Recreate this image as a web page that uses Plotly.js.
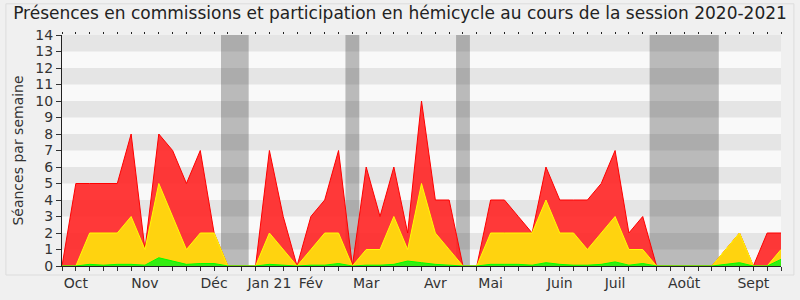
<!DOCTYPE html>
<html>
<head>
<meta charset="utf-8">
<script src="https://cdn.plot.ly/plotly-3.0.1.min.js"></script>
<style>html,body{margin:0;padding:0;background:#f0f0f0;}#chart{width:800px;height:300px;}</style>
</head>
<body>
<div id="chart"></div>
<script>
// Week index 0..52 of the 2020-2021 session
const weeks = [0,1,2,3,4,5,6,7,8,9,10,11,12,13,14,15,16,17,18,19,20,21,22,23,24,25,26,27,28,29,30,31,32,33,34,35,36,37,38,39,40,41,42,43,44,45,46,47,48,49,50,51,52];
// Présences en commission + hémicycle (red)
const presences = [0,5,5,5,5,8,1,8,7,5,7,2,0,0,0,7,3,0,3,4,7,0,6,3,6,2,10,4,4,0,0,4,4,3,2,6,4,4,4,5,7,2,3,0,0,0,0,0,1,2,0,2,2];
// Participation en hémicycle (yellow)
const hemicycle = [0,0,2,2,2,3,1,5,3,1,2,2,0,0,0,2,1,0,1,2,2,0,1,1,3,1,5,2,1,0,0,2,2,2,2,4,2,2,1,2,3,1,1,0,0,0,0,0,1,2,0,0,1];
// Interventions (green)
const interventions = [0,0,0.1,0.05,0.1,0.1,0.05,0.5,0.3,0.1,0.15,0.15,0,0,0,0.1,0.05,0,0.05,0.05,0.15,0,0.05,0.05,0.1,0.3,0.2,0.1,0.05,0,0,0.1,0.1,0.1,0.05,0.2,0.1,0.05,0.05,0.1,0.25,0.05,0.15,0,0,0,0,0,0.1,0.2,0,0,0.4];
// Month labels (week positions)
const monthWeeks = [1,6,11,15,18,22,27,31,36,40,45,50];
const monthLabels = ["Oct","Nov","Déc","Jan 21","Fév","Mar","Avr","Mai","Juin","Juil","Août","Sept"];
// Vacation periods (week bounds)
const vacStart = [11.5,20.5,28.5,42.5];
const vacEnd = [13.5,21.5,29.5,47.5];
const yTicks = [0,1,2,3,4,5,6,7,8,9,10,11,12,13,14];

const tickText = weeks.map(w => { const i = monthWeeks.indexOf(w); return i >= 0 ? monthLabels[i] : ""; });

const shapes = [];
for (let k = 1; k < 14; k += 2) {
  shapes.push({type:'rect', xref:'paper', yref:'y', x0:0, x1:1, y0:k, y1:k+1, fillcolor:'#e5e5e5', line:{width:0}, layer:'below'});
}
for (let i = 0; i < vacStart.length; i++) {
  shapes.push({type:'rect', xref:'x', yref:'paper', x0:vacStart[i], x1:vacEnd[i], y0:0, y1:1, fillcolor:'rgba(40,40,40,0.3)', line:{width:0}, layer:'below'});
}
shapes.push({type:'rect', xref:'paper', yref:'paper', x0:-0.078, x1:1.018, y0:-0.039, y1:1.135, line:{color:'#dcdcdc', width:1}, fillcolor:'rgba(0,0,0,0)', layer:'below'});

const traces = [
  {x: weeks, y: presences, type:'scatter', mode:'lines', fill:'tozeroy', line:{color:'#ff0000', width:1}, fillcolor:'rgba(255,35,35,0.9)', hoverinfo:'skip'},
  {x: weeks, y: hemicycle, type:'scatter', mode:'lines', fill:'tozeroy', line:{color:'#ffff00', width:1}, fillcolor:'#ffd30f', hoverinfo:'skip'},
  {x: weeks, y: interventions, type:'scatter', mode:'lines', fill:'tozeroy', line:{color:'#00ff00', width:1}, fillcolor:'#33ee11', hoverinfo:'skip'},
  {x: weeks, y: weeks.map(()=>null), xaxis:'x2', type:'scatter', mode:'lines', hoverinfo:'skip', showlegend:false}
];

const layout = {
  width: 800, height: 300,
  margin: {l:62, r:19, t:35, b:34},
  paper_bgcolor: '#f0f0f0',
  plot_bgcolor: '#f9f9f9',
  showlegend: false,
  font: {family:'"DejaVu Sans", Verdana, sans-serif', color:'#333', size:14},
  title: {text:'Présences en commissions et participation en hémicycle au cours de la session 2020-2021', font:{size:17, color:'#222'}, x:0.5, xanchor:'center', y:0.955, yref:'container', yanchor:'middle'},
  xaxis: {range:[0,52], tickmode:'array', tickvals:weeks, ticktext:tickText, ticks:'outside', ticklen:4, tickcolor:'#333', showgrid:false, zeroline:false, showline:true, linecolor:'#222', linewidth:1, tickfont:{size:14, color:'#333'}, fixedrange:true},
  xaxis2: {range:[0,52], overlaying:'x', side:'top', tickmode:'array', tickvals:weeks, ticktext:weeks.map(()=>""), ticks:'outside', ticklen:2, tickcolor:'#222', showgrid:false, zeroline:false, showline:false},
  yaxis: {range:[0,14], tickmode:'array', tickvals:yTicks, ticks:'outside', ticklen:5, tickcolor:'#333', showgrid:false, zeroline:false, showline:true, linecolor:'#222', linewidth:1, tickfont:{size:14, color:'#333'}, title:{text:'Séances par semaine', font:{size:14, color:'#333'}, standoff:8}},
  shapes: shapes
};

Plotly.newPlot('chart', traces, layout, {displayModeBar:false, staticPlot:true});
</script>
</body>
</html>
